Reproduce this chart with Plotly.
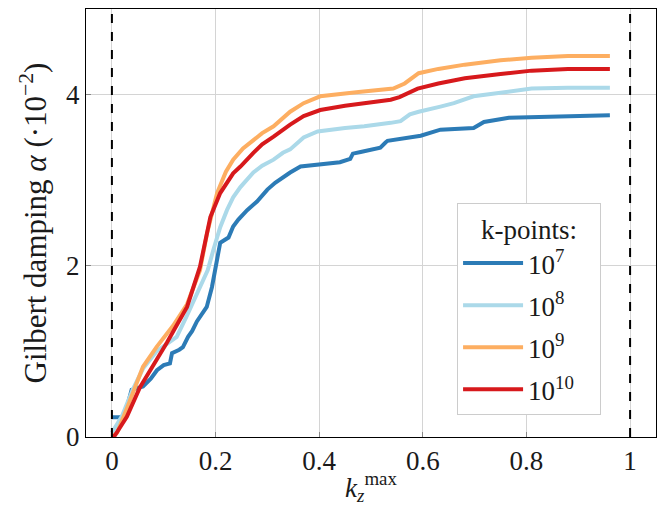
import plotly.graph_objects as go

# k-points = 1e7
x_k7 = [0, 0.019, 0.029, 0.038, 0.06, 0.075, 0.087, 0.1, 0.112, 0.116, 0.13, 0.137, 0.147,
        0.155, 0.164, 0.175, 0.183, 0.193, 0.2, 0.205, 0.209, 0.225, 0.234, 0.244, 0.261, 0.28, 0.3, 0.315,
        0.331, 0.344, 0.364, 0.402, 0.44, 0.46, 0.465, 0.48, 0.518, 0.528, 0.532, 0.596, 0.634, 0.698,
        0.71, 0.718, 0.766, 0.82, 0.874, 0.92, 0.961]
y_k7 = [0.23, 0.23, 0.35, 0.55, 0.59, 0.68, 0.78, 0.84, 0.86, 0.98, 1.02, 1.05, 1.17,
        1.24, 1.35, 1.44, 1.52, 1.75, 1.99, 2.15, 2.27, 2.33, 2.46, 2.54, 2.65, 2.75, 2.89, 2.97,
        3.04, 3.09, 3.16, 3.19, 3.21, 3.25, 3.31, 3.33, 3.38, 3.44, 3.46, 3.52, 3.59, 3.61,
        3.66, 3.68, 3.73, 3.74, 3.75, 3.75, 3.76]

# k-points = 1e8
x_k8 = [0, 0.02, 0.04, 0.06, 0.086, 0.125, 0.145, 0.17, 0.185, 0.196, 0.209, 0.222, 0.234, 0.248, 0.273,
        0.29, 0.312, 0.33, 0.344, 0.37, 0.397, 0.45, 0.487, 0.538, 0.557, 0.575, 0.592, 0.634, 0.66, 0.698,
        0.746, 0.81, 0.88, 0.961]
y_k8 = [0.05, 0.25, 0.55, 0.8, 1.0, 1.17, 1.42, 1.75, 1.95, 2.19, 2.45, 2.65, 2.8, 2.92, 3.09,
        3.17, 3.24, 3.32, 3.36, 3.5, 3.57, 3.61, 3.63, 3.67, 3.69, 3.77, 3.8, 3.86, 3.9, 3.98,
        4.02, 4.07, 4.08, 4.08]

# k-points = 1e9
x_k9 = [0, 0.01, 0.03, 0.06, 0.086, 0.118, 0.145, 0.17, 0.184, 0.203, 0.22, 0.234, 0.253, 0.273, 0.29,
        0.312, 0.33, 0.344, 0.37, 0.402, 0.476, 0.543, 0.565, 0.592, 0.63, 0.681, 0.75, 0.81, 0.88, 0.961]
y_k9 = [0, 0.05, 0.35, 0.82, 1.05, 1.3, 1.55, 1.95, 2.39, 2.85, 3.1, 3.24, 3.37, 3.47, 3.55,
        3.63, 3.73, 3.8, 3.9, 3.98, 4.03, 4.07, 4.13, 4.25, 4.3, 4.35, 4.4, 4.43, 4.45, 4.45]

# k-points = 1e10
x_k10 = [0, 0.006, 0.029, 0.054, 0.086, 0.106, 0.145, 0.17, 0.19, 0.209, 0.234, 0.248, 0.273, 0.29,
         0.312, 0.33, 0.344, 0.37, 0.402, 0.45, 0.538, 0.555, 0.567, 0.59, 0.63, 0.681, 0.75, 0.81, 0.88, 0.961]
y_k10 = [0, 0.02, 0.24, 0.58, 0.9, 1.1, 1.52, 1.99, 2.57, 2.85, 3.08, 3.16, 3.32, 3.42,
         3.51, 3.59, 3.65, 3.75, 3.82, 3.87, 3.94, 3.97, 4.0, 4.07, 4.13, 4.19, 4.24, 4.28, 4.30, 4.30]

labels = ["10<sup>7</sup>", "10<sup>8</sup>", "10<sup>9</sup>", "10<sup>10</sup>"]
colors = ["#2c7bb6", "#abd9e9", "#fdae61", "#d7191c"]
series = [(x_k7, y_k7), (x_k8, y_k8), (x_k9, y_k9), (x_k10, y_k10)]

boundary_x = [0, 1]
x_ticks = [0, 0.2, 0.4, 0.6, 0.8, 1]
x_ticklabels = ["0", "0.2", "0.4", "0.6", "0.8", "1"]
y_ticks = [0, 2, 4]

FONT = "Liberation Serif, Times New Roman, serif"
TXT = "#1a1a1a"

fig = go.Figure()
for i, ((xs, ys), lab, col) in enumerate(zip(series, labels, colors)):
    fig.add_trace(go.Scatter(x=xs, y=ys, mode="lines", name=lab + "&nbsp;&nbsp;&nbsp;",
                             legendgroup=f"g{i}", line=dict(color=col, width=4)))

for bx in boundary_x:
    fig.add_vline(x=bx, line=dict(color="black", width=2, dash="dash"))

fig.update_layout(
    width=662, height=508,
    margin=dict(l=86, r=6, t=9, b=71),
    paper_bgcolor="white", plot_bgcolor="white",
    font=dict(family=FONT, size=27, color=TXT),
    showlegend=True,
    legend=dict(
        x=0.651, y=0.547, xanchor="left", yanchor="top",
        bgcolor="white", bordercolor="#cccccc", borderwidth=1,
        font=dict(family=FONT, size=27, color=TXT),
        title=dict(text="k-points:", side="top center", font=dict(family=FONT, size=27, color=TXT)),
        tracegroupgap=4, itemwidth=60,
    ),
)
fig.update_xaxes(
    range=[-0.05, 1.05], tickvals=x_ticks, ticktext=x_ticklabels, automargin=False,
    showgrid=True, gridcolor="#d4d4d4", gridwidth=1, zeroline=False,
    showline=True, linecolor="black", linewidth=1, mirror=True,
    ticks="inside", ticklen=5, tickcolor="#888",
    tickfont=dict(family=FONT, size=27, color=TXT),
    title=dict(text="<i>k</i><sub><i>z</i></sub><sup>max</sup>", font=dict(family=FONT, size=27, color=TXT), standoff=2),
)
fig.update_yaxes(
    range=[0, 5], tickvals=y_ticks, automargin=False,
    showgrid=True, gridcolor="#d4d4d4", gridwidth=1, zeroline=False,
    showline=True, linecolor="black", linewidth=1, mirror=True,
    ticks="inside", ticklen=5, tickcolor="#888",
    tickfont=dict(family=FONT, size=27, color=TXT),
    title=dict(text="Gilbert damping <i>α</i> (·10<sup>−2</sup>)", font=dict(family=FONT, size=31, color=TXT), standoff=10),
)

fig.write_html("out.html", config={"displayModeBar": False},
               post_script="document.body.style.margin='0';")
